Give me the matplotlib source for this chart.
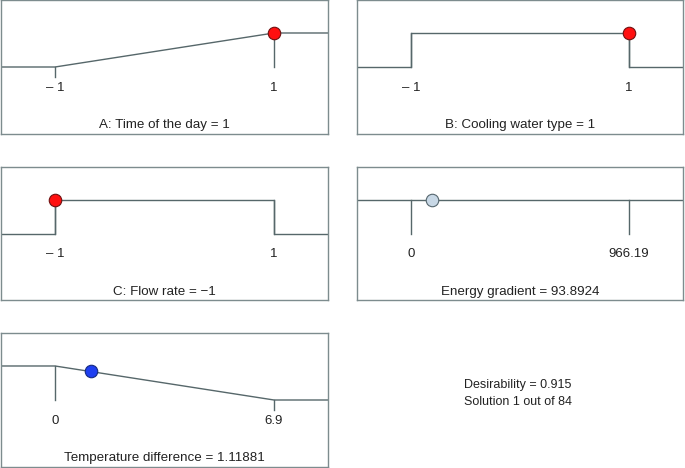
import numpy as np
import matplotlib
matplotlib.use('Agg')
import matplotlib.pyplot as plt

plt.rcParams['font.family'] = ['Liberation Sans', 'DejaVu Sans']

# factor names and optimum settings
titles = ['A: Time of the day = 1', 'B: Cooling water type = 1', 'C: Flow rate = \u22121',
          'Energy gradient = 93.8924', 'Temperature difference = 1.11881']
tick_lo = [-1, -1, -1, 0, 0]
tick_hi = [1, 1, 1, 966.19, 6.9]
lo_labels = ['\u2013 1', '\u2013 1', '\u2013 1', '0', '0']
hi_labels = ['1', '1', '1', '966.19', '6.9']
values = [1, 1, -1, 93.8924, 1.11881]
point_d = [1, 1, 1, 1, 0.838]

# desirability curve vertices (x, d)
curve_x = [[-1, 1], [-1, -1, 1, 1], [-1, -1, 1, 1], [0, 966.19], [0, 6.9]]
curve_d = [[0, 1], [0, 1, 1, 0], [0, 1, 1, 0], [1, 1], [1, 0]]

point_colors = ['#ff1010', '#ff1010', '#ff1010', '#c8d8e6', '#1f3ff0']
point_edges = ['#701010', '#701010', '#701010', '#55666e', '#152a80']

desirability = 0.915
solution = 1
n_solutions = 84

W, H = 685, 468
fig = plt.figure(figsize=(W / 100, H / 100), dpi=100)

# pixel boxes (left, top, width, height)
boxes = [(1, 0, 327, 134), (357, 0, 326, 134), (1, 167, 327, 133),
         (357, 167, 326, 133), (1, 333, 327, 134)]

line_c = '#56676a'
edge_c = '#7d8c8e'

for i in range(5):
    l, t, w, h = boxes[i]
    ax = fig.add_axes([l / W, (H - t - h) / H, w / W, h / H])
    lo, hi = tick_lo[i], tick_hi[i]
    span = hi - lo
    xmin, xmax = lo - 0.2466 * span, hi + 0.2466 * span
    ax.set_xlim(xmin, xmax)
    ax.set_ylim(-1.97, 1.97)
    ax.set_xticks([])
    ax.set_yticks([])
    for s in ax.spines.values():
        s.set_color(edge_c)
        s.set_linewidth(1.0)

    cx = [xmin] + curve_x[i] + [xmax]
    cd = [curve_d[i][0]] + curve_d[i] + [curve_d[i][-1]]
    ax.plot(cx, cd, color=line_c, lw=1.0, zorder=2)

    # ticks from the curve down
    for tx in (lo, hi):
        top = max(d for x, d in zip(curve_x[i], curve_d[i]) if x == tx)
        bottom = 0 if top > 0 else -0.28
        ax.plot([tx, tx], [top, bottom], color=line_c, lw=1.0, zorder=2)

    ax.text(lo, -0.62, lo_labels[i], ha='center', va='center', fontsize=9.5, color='#222222')
    ax.text(hi, -0.62, hi_labels[i], ha='center', va='center', fontsize=9.5, color='#222222')
    ax.text((xmin + xmax) / 2, -1.72, titles[i], ha='center', va='center',
            fontsize=9.6, color='#222222')

    ax.plot([values[i]], [point_d[i]], 'o', ms=9, mfc=point_colors[i],
            mec=point_edges[i], mew=0.8, zorder=3)

fig.text(518 / W, 1 - 385 / H, 'Desirability = %.3f' % desirability, ha='center',
         va='center', fontsize=9, color='#222222')
fig.text(518 / W, 1 - 402 / H, 'Solution %d out of %d' % (solution, n_solutions),
         ha='center', va='center', fontsize=9, color='#222222')

fig.savefig('out.png', dpi=100)
